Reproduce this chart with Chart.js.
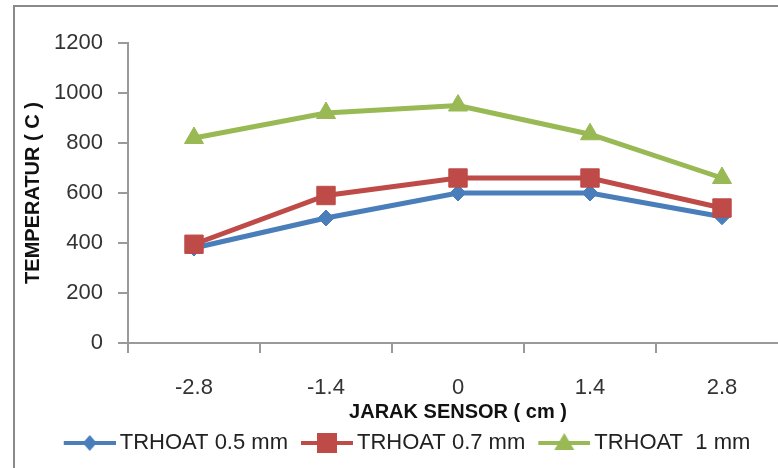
<!DOCTYPE html>
<html>
<head>
<meta charset="utf-8">
<script src="https://cdn.jsdelivr.net/npm/chart.js@4/dist/chart.umd.min.js"></script>
<style>
  html, body { margin: 0; padding: 0; background: #fff; overflow: hidden; }
  #frame {
    position: absolute; left: 13px; top: 5px;
    width: 790px; height: 480px;
    border: 2px solid #8a8a8a; background: #fff;
  }
  #chart { display: block; }
</style>
</head>
<body>
<div id="frame"><canvas id="chart" width="790" height="480"></canvas></div>
<script>
const sensorDistances = ["-2.8", "-1.4", "0", "1.4", "2.8"];
const temp05 = [380, 500, 600, 600, 505];
const temp07 = [395, 590, 660, 660, 540];
const temp10 = [820, 920, 950, 835, 660];
const seriesNames = ["TRHOAT 0.5 mm", "TRHOAT 0.7 mm", "TRHOAT  1 mm"];
const yTicks = [0, 200, 400, 600, 800, 1000, 1200];

const BLUE = "#4a7ebb";
const RED = "#be4b48";
const GREEN = "#98b954";
const AXIS = "#9a9a9a";
const FONT = "'Liberation Sans', Arial, sans-serif";

// little line + marker picture used as the legend symbol
function legendSample(color, shape) {
  const c = document.createElement("canvas");
  c.width = 62; c.height = 24;
  const g = c.getContext("2d");
  g.strokeStyle = color;
  g.fillStyle = color;
  g.lineWidth = 4;
  g.beginPath(); g.moveTo(10, 12); g.lineTo(62, 12); g.stroke();
  const cx = 36, cy = 12;
  g.beginPath();
  if (shape === "diamond") {
    g.moveTo(cx, cy - 8); g.lineTo(cx + 7, cy); g.lineTo(cx, cy + 8); g.lineTo(cx - 7, cy);
  } else if (shape === "square") {
    g.rect(cx - 10, cy - 10, 20, 20);
  } else {
    g.moveTo(cx, cy - 10); g.lineTo(cx + 10, cy + 7); g.lineTo(cx - 10, cy + 7);
  }
  g.closePath();
  g.fill();
  return c;
}

const samples = [
  legendSample(BLUE, "diamond"),
  legendSample(RED, "square"),
  legendSample(GREEN, "triangle")
];

function series(label, data, color, style, radius, order) {
  return {
    label, data, order,
    borderColor: color,
    backgroundColor: color,
    borderWidth: 5,
    tension: 0,
    pointStyle: style,
    pointRadius: radius,
    pointHoverRadius: radius,
    pointBackgroundColor: color,
    pointBorderColor: color,
    pointBorderWidth: 1
  };
}

// nudge the legend row a few pixels to the right
const legendShift = {
  id: "legendShift",
  afterLayout(chart) {
    if (chart.legend) chart.legend.left += 8;
  }
};

const ctx = document.getElementById("chart").getContext("2d");

new Chart(ctx, {
  type: "line",
  data: {
    labels: sensorDistances,
    datasets: [
      series(seriesNames[0], temp05, BLUE, "rectRot", 8, 3),
      series(seriesNames[1], temp07, RED, "rect", 13, 2),
      series(seriesNames[2], temp10, GREEN, "triangle", 11, 1)
    ]
  },
  plugins: [legendShift],
  options: {
    responsive: false,
    animation: false,
    layout: { padding: { top: 36, right: 17, bottom: 23, left: 0 } },
    plugins: {
      tooltip: { enabled: false },
      legend: {
        position: "bottom",
        labels: {
          usePointStyle: true,
          pointStyleWidth: 48,
          padding: 10,
          color: "#222",
          font: { family: FONT, size: 22 },
          generateLabels: chart => chart.data.datasets.map((ds, i) => ({
            text: ds.label,
            pointStyle: samples[i],
            fillStyle: "transparent",
            strokeStyle: "transparent",
            lineWidth: 0,
            fontColor: "#222",
            hidden: false,
            datasetIndex: i
          }))
        }
      }
    },
    scales: {
      x: {
        type: "category",
        offset: true,
        afterFit: scale => { scale.height = 79; },
        grid: {
          offset: true,
          drawOnChartArea: false,
          tickLength: 10,
          color: AXIS,
          lineWidth: 2
        },
        border: { color: AXIS, width: 2 },
        ticks: {
          padding: 22,
          color: "#333",
          font: { family: FONT, size: 22 }
        },
        title: {
          display: true,
          text: "JARAK SENSOR ( cm )",
          color: "#111",
          padding: { top: 0, bottom: 0 },
          font: { family: FONT, size: 20, weight: "bold", lineHeight: 1 }
        }
      },
      y: {
        min: 0,
        max: 1200,
        afterFit: scale => { scale.width = 113; },
        afterBuildTicks: scale => { scale.ticks = yTicks.map(v => ({ value: v })); },
        grid: {
          drawOnChartArea: false,
          tickLength: 10,
          color: AXIS,
          lineWidth: 2
        },
        border: { color: AXIS, width: 2 },
        ticks: {
          padding: 15,
          color: "#333",
          font: { family: FONT, size: 22 },
          callback: v => String(v)
        },
        title: {
          display: true,
          text: "TEMPERATUR ( C )",
          color: "#111",
          padding: { top: 8, bottom: 0 },
          font: { family: FONT, size: 20, weight: "bold", lineHeight: 1 }
        }
      }
    }
  }
});
</script>
</body>
</html>
